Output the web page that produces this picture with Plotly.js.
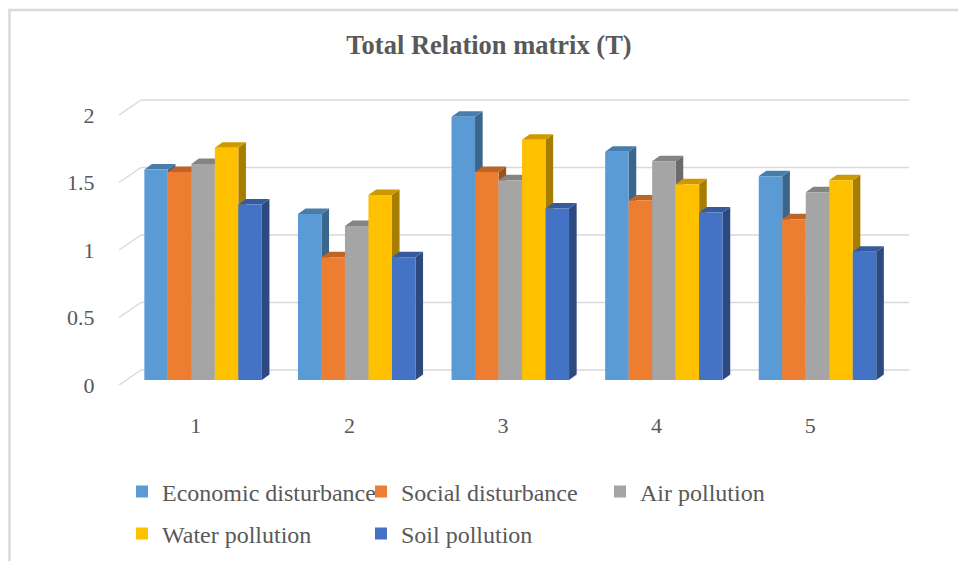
<!DOCTYPE html>
<html><head><meta charset="utf-8">
<script src="https://cdn.plot.ly/plotly-3.0.1.min.js"></script>
<style>html,body{margin:0;padding:0;background:#fff}#chart{width:958px;height:561px}</style>
</head><body><div id="chart"></div>
<script>
// ---- data ----
const categories = ['1', '2', '3', '4', '5'];
const seriesNames = ['Economic disturbance', 'Social disturbance', 'Air pollution', 'Water pollution', 'Soil pollution'];
const economic = [1.56, 1.23, 1.95, 1.69, 1.51];
const social   = [1.54, 0.91, 1.54, 1.33, 1.19];
const air      = [1.60, 1.14, 1.48, 1.62, 1.39];
const water    = [1.72, 1.37, 1.78, 1.45, 1.48];
const soil     = [1.30, 0.91, 1.27, 1.24, 0.95];
const yTickVals = [0, 0.5, 1, 1.5, 2];
const yTickText = ['0', '0.5', '1', '1.5', '2'];
const titleText = 'Total Relation matrix (T)';

// ---- styling / geometry ----
const seriesValues = [economic, social, air, water, soil];
const colors = ['#5B9BD5', '#ED7D31', '#A5A5A5', '#FFC000', '#4472C4'];
function shade(hex, f) {
  const n = parseInt(hex.slice(1), 16);
  const r = Math.round(((n >> 16) & 255) * f), g = Math.round(((n >> 8) & 255) * f), b = Math.round((n & 255) * f);
  return 'rgb(' + r + ',' + g + ',' + b + ')';
}
const FONT = '"Liberation Serif", "Times New Roman", serif';
const TXT = '#595959';
const GRID = '#d9d9d9';
const W = 958, H = 561;
const L = 119, R = 909, T = 83, B = 385;
const fx = px => (px - L) / (R - L);
const UNIT = 135;            // px per 1.0 on value axis
const CAT = 153.6;           // px per category
const planes = {
  front: { x0: 119, z0: 385 },
  bar:   { x0: 126.3, z0: 380 },
  back:  { x0: 141, z0: 370 }
};
const dom = p => [fx(p.x0), fx(p.x0 + 5 * CAT)];
const rng = p => [-(B - p.z0) / UNIT, (p.z0 - T) / UNIT];
const nSeries = seriesValues.length;
const bargap = 0.235;
const bw = (1 - bargap) / nSeries;
const dX = 7.6 / CAT, dY = 5.5 / UNIT;
const backLift = (planes.front.z0 - planes.back.z0) / UNIT;

const xNum = categories.map((c, i) => i + 1);

const traces = seriesValues.map((vals, s) => ({
  type: 'bar', name: seriesNames[s], x: xNum, y: vals,
  xaxis: 'x2', yaxis: 'y2',
  marker: { color: colors[s], line: { width: 0 } },
  legend: s === 0 ? 'legend' : 'legend' + (s + 1),
  hoverinfo: 'name+y'
}));

const shapes = [];
// back wall gridlines and left wall diagonals (front plane axis y3)
yTickVals.forEach(v => {
  shapes.push({
    type: 'line', xref: 'paper', yref: 'y3', layer: 'below',
    x0: fx(planes.back.x0), x1: 1, y0: v + backLift, y1: v + backLift,
    line: { color: GRID, width: 1.5 }
  });
  shapes.push({
    type: 'line', xref: 'paper', yref: 'y3', layer: 'below',
    x0: fx(planes.front.x0), y0: v,
    x1: fx(planes.back.x0), y1: v + backLift,
    line: { color: GRID, width: 1.5 }
  });
});
// 3D top and side faces derived from the data through x2/y2 axes
seriesValues.forEach((vals, s) => {
  vals.forEach((v, i) => {
    const xc = xNum[i] + (s - (nSeries - 1) / 2) * bw;
    const x0 = xc - bw / 2, x1 = xc + bw / 2;
    shapes.push({
      type: 'path', xref: 'x2', yref: 'y2', layer: 'below',
      path: `M${x1},0 L${x1},${v} L${x1 + dX},${v + dY} L${x1 + dX},${dY} Z`,
      fillcolor: shade(colors[s], 0.65), line: { width: 0 }
    });
    shapes.push({
      type: 'path', xref: 'x2', yref: 'y2', layer: 'below',
      path: `M${x0},${v} L${x1},${v} L${x1 + dX},${v + dY} L${x0 + dX},${v + dY} Z`,
      fillcolor: shade(colors[s], 0.8), line: { width: 0 }
    });
  });
});
// chart border (left and top visible)
shapes.push({
  type: 'rect', xref: 'paper', yref: 'paper', layer: 'below',
  x0: fx(9.5), x1: fx(990), y0: (B - 600) / (B - T), y1: (B - 10) / (B - T),
  line: { color: GRID, width: 2.5 }, fillcolor: 'rgba(0,0,0,0)'
});

const hidden = { showgrid: false, zeroline: false, showline: false, showticklabels: false, ticks: '', fixedrange: true };

const legendPos = [
  { x: 122, y: 492 }, { x: 361, y: 492 }, { x: 600, y: 492 },
  { x: 122, y: 534 }, { x: 361, y: 534 }
];
const legendBase = {
  orientation: 'h', xanchor: 'left', yanchor: 'middle',
  xref: 'container', yref: 'container',
  bgcolor: 'rgba(0,0,0,0)', borderwidth: 0,
  font: { family: FONT, size: 24, color: TXT }
};

const layout = {
  width: W, height: H,
  margin: { l: L, r: W - R, t: T, b: H - B, pad: 0, autoexpand: false },
  paper_bgcolor: '#ffffff', plot_bgcolor: 'rgba(0,0,0,0)',
  font: { family: FONT, size: 22, color: TXT },
  showlegend: true,
  title: {
    text: '<b>' + titleText + '</b>',
    font: { family: FONT, size: 26.5, color: TXT },
    x: 489 / W, xref: 'container', xanchor: 'center',
    y: 1 - 45 / H, yref: 'container', yanchor: 'middle'
  },
  barmode: 'group', bargap: bargap, bargroupgap: 0,
  // bar plane
  xaxis2: Object.assign({}, hidden, { domain: dom(planes.bar), range: [0.5, 5.5], anchor: 'y2' }),
  yaxis2: Object.assign({}, hidden, { domain: [0, 1], range: rng(planes.bar), anchor: 'x2' }),
  // front plane: tick labels
  xaxis3: Object.assign({}, hidden, {
    domain: dom(planes.front), range: [0.5, 5.5], anchor: 'y3',
    showticklabels: true, tickmode: 'array', tickvals: xNum, ticktext: categories,
    ticks: 'outside', ticklen: 21, tickcolor: 'rgba(0,0,0,0)',
    tickfont: { family: FONT, size: 22, color: TXT }
  }),
  yaxis3: Object.assign({}, hidden, {
    domain: [0, 1], range: rng(planes.front), anchor: 'x3',
    showticklabels: true, tickmode: 'array', tickvals: yTickVals, ticktext: yTickText,
    ticks: 'outside', ticklen: 19, tickcolor: 'rgba(0,0,0,0)',
    tickfont: { family: FONT, size: 22, color: TXT }
  }),
  shapes: shapes,
  hovermode: 'closest'
};
legendPos.forEach((p, k) => {
  layout[k === 0 ? 'legend' : 'legend' + (k + 1)] = Object.assign({}, legendBase, { x: p.x / W, y: 1 - p.y / H });
});

Plotly.newPlot('chart', traces, layout, { displayModeBar: false });
</script>
</body></html>
